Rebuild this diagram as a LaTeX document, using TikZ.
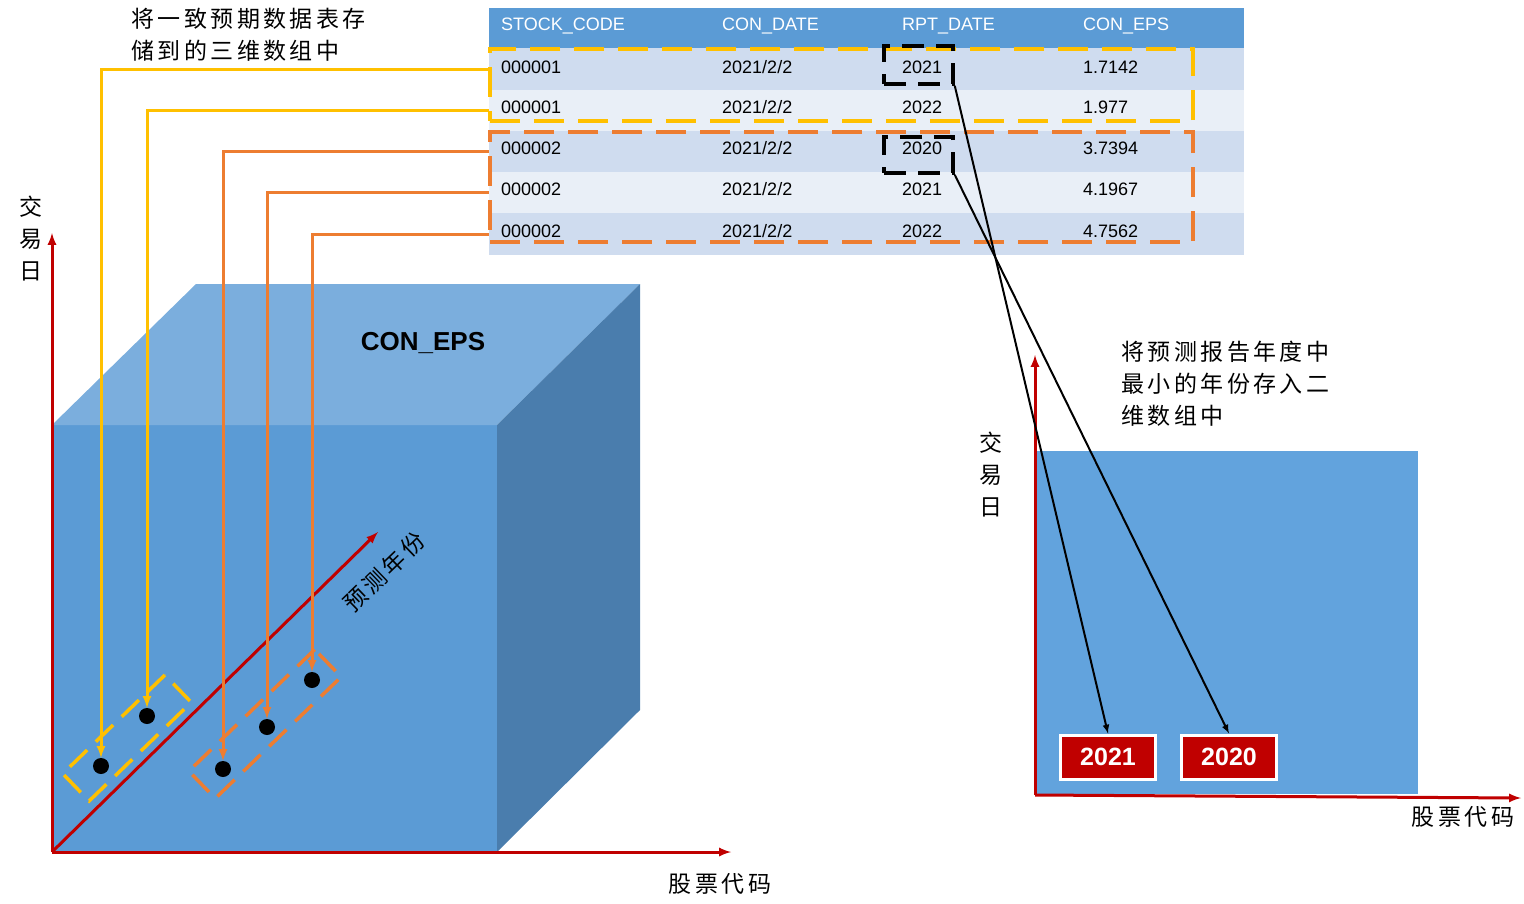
\documentclass[tikz,border=0pt]{standalone}
\usepackage{fontspec}
\setmainfont{Liberation Sans}
\newfontfamily\cjk[LetterSpace=15]{Noto Sans CJK SC}
\usepackage{xcolor}
\usepackage{tikz}
\usetikzlibrary{positioning,arrows}

\definecolor{hdblue}{HTML}{5B9BD5}
\definecolor{rowdark}{HTML}{CFDCEF}
\definecolor{rowlight}{HTML}{E9EFF7}
\definecolor{gold}{HTML}{FFC000}
\definecolor{orng}{HTML}{ED7D31}
\definecolor{axred}{HTML}{C00000}
\definecolor{cubetop}{HTML}{7BAEDD}
\definecolor{cubefront}{HTML}{5B9BD5}
\definecolor{cubeside}{HTML}{4A7DAD}
\definecolor{planeblue}{HTML}{62A3DD}

\tikzset{
  cell/.style={anchor=west,inner sep=0pt,font=\fontsize{18}{20}\selectfont},
  hcell/.style={cell,text=white},
  rowbg/.style={fill=#1,inner sep=0pt,minimum width=755,minimum height=41.5},
  cjklab/.style={inner sep=0pt,font=\cjk\fontsize{23}{32}\selectfont},
  axis/.style={draw=axred,line width=3pt,-latex},
  yline/.style={draw=gold,line width=3pt,-latex},
  oline/.style={draw=orng,line width=3pt,-latex},
  dot/.style={circle,fill=black,minimum size=16,inner sep=0pt},
  bigbox/.style={draw=#1,line width=3.5pt,dash pattern=on 30pt off 14pt,inner sep=0pt},
  slantbox/.style={draw=#1,line width=3.5pt,dash pattern=on 24pt off 12pt,rotate=44,minimum height=38,inner sep=0pt},
  kbox/.style={draw=black,line width=3.5pt,dash pattern=on 22pt off 12pt,minimum width=69,inner sep=0pt},
  karrow/.style={draw=black,line width=2pt,-latex},
  yearbox/.style={fill=axred,draw=white,line width=3pt,minimum width=95,minimum height=44,text=white,font=\bfseries\fontsize{25}{28}\selectfont}
}

\begin{document}
\begin{tikzpicture}[x=1pt,y=-1pt]
  \useasboundingbox (0,0) rectangle (1524,903);

  \node[rowbg=hdblue,minimum height=40] (hd) at (866.5,28) {};
  \node[rowbg=rowdark] (row1) at (866.5,69) {};
  \node[rowbg=rowlight] (row2) at (866.5,110.5) {};
  \node[rowbg=rowdark] (row3) at (866.5,151.5) {};
  \node[rowbg=rowlight] (row4) at (866.5,192.5) {};
  \node[rowbg=rowdark] (row5) at (866.5,234) {};

  \node[hcell] (hcode) at (501,26) {STOCK\_CODE};
  \node[hcell] (hdate) at (722,26) {CON\_DATE};
  \node[hcell] (hrpt) at (902,26) {RPT\_DATE};
  \node[hcell] (heps) at (1083,26) {CON\_EPS};

  \node[cell] (code1) at (501,67) {000001};
  \node[cell] (date1) at (722,67) {2021/2/2};
  \node[cell] (rpt1) at (902,67) {2021};
  \node[cell] (eps1) at (1083,67) {1.7142};
  \node[cell] (code2) at (501,107) {000001};
  \node[cell] (date2) at (722,107) {2021/2/2};
  \node[cell] (rpt2) at (902,107) {2022};
  \node[cell] (eps2) at (1083,107) {1.977};
  \node[cell] (code3) at (501,148) {000002};
  \node[cell] (date3) at (722,148) {2021/2/2};
  \node[cell] (rpt3) at (902,148) {2020};
  \node[cell] (eps3) at (1083,148) {3.7394};
  \node[cell] (code4) at (501,189) {000002};
  \node[cell] (date4) at (722,189) {2021/2/2};
  \node[cell] (rpt4) at (902,189) {2021};
  \node[cell] (eps4) at (1083,189) {4.1967};
  \node[cell] (code5) at (501,231) {000002};
  \node[cell] (date5) at (722,231) {2021/2/2};
  \node[cell] (rpt5) at (902,231) {2022};
  \node[cell] (eps5) at (1083,231) {4.7562};

  \node[bigbox=gold,minimum width=703,minimum height=72] (grp1) at (841.5,85) {};
  \node[bigbox=orng,minimum width=703,minimum height=110] (grp2) at (841.5,187) {};
  \node[kbox,minimum height=38] (k1) at (918.5,65) {};
  \node[kbox,minimum height=36] (k2) at (918.5,155) {};

  \fill[cubefront] (52,425) rectangle (497,852);
  \fill[cubetop] (52,425) -- (196,284) -- (640,284) -- (497,425) -- cycle;
  \fill[cubeside] (497,425) -- (640,284) -- (640,710) -- (497,852) -- cycle;
  \node[font=\bfseries\fontsize{26}{30}\selectfont] (cube) at (423,343) {CON\_EPS};

  \coordinate (o1) at (52,852);
  \coordinate (v1) at (52,233);
  \coordinate (h1) at (731,852);
  \coordinate (z1) at (378,532);
  \draw[axis] (o1) -- (v1);
  \draw[axis] (o1) -- (h1);
  \draw[axis] (o1) -- (z1);
  \node[cjklab,rotate=44] (zlab) at (384,572) {预测年份};
  \node[cjklab,align=center] (vlab1) at (31,239) {交\\易\\日};
  \node[cjklab] (hlab1) at (720,884) {股票代码};
  \node[cjklab,anchor=west,align=left] (note1) at (131,35) {将一致预期数据表存\\储到的三维数组中};

  \node[dot] (d1) at (101,766) {};
  \node[dot] (d2) at (147,716) {};
  \node[dot] (d3) at (223,769) {};
  \node[dot] (d4) at (267,727) {};
  \node[dot] (d5) at (312,680) {};
  \node[slantbox=gold,minimum width=142] (s1) at (127,738) {};
  \node[slantbox=orng,minimum width=175] (s2) at (265,724) {};

  \draw[yline] (row1.west) -| (d1);
  \draw[yline] (row2.west) -| (d2);
  \draw[oline] (row3.west) -| (d3);
  \draw[oline] (row4.west) -| (d4);
  \draw[oline] (row5.west) -| (d5);

  \fill[planeblue] (1035,451) rectangle (1418,794);
  \coordinate (o2) at (1035,795);
  \coordinate (v2) at (1035,355);
  \coordinate (h2) at (1521,798);
  \draw[axis] (o2) -- (v2);
  \draw[axis] (o2) -- (h2);
  \node[cjklab,align=center] (vlab2) at (991,475) {交\\易\\日};
  \node[cjklab] (hlab2) at (1463,817) {股票代码};
  \node[cjklab,anchor=west,align=left] (note2) at (1121,384) {将预测报告年度中\\最小的年份存入二\\维数组中};

  \node[yearbox] (y21) at (1108,757) {2021};
  \node[yearbox,right=23pt of y21] (y20) {2020};
  \draw[karrow] (k1.south east) -- (y21.north);
  \draw[karrow] (k2.south east) -- (y20.north);
\end{tikzpicture}
\end{document}
